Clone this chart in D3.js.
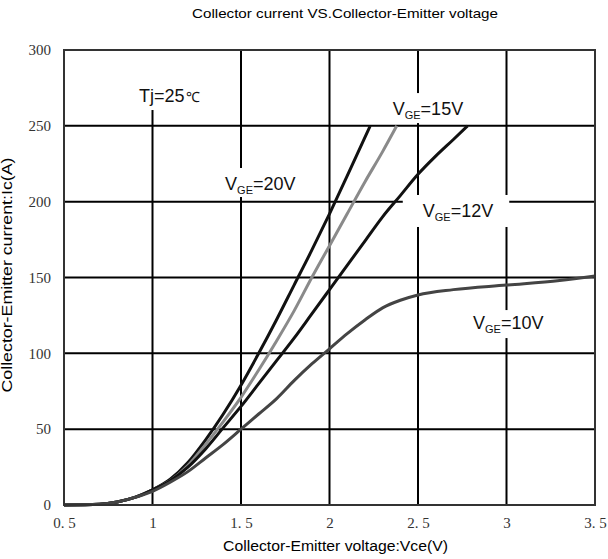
<!DOCTYPE html>
<html>
<head>
<meta charset="utf-8">
<script src="https://cdn.jsdelivr.net/npm/d3@7"></script>
<style>
  body { margin: 0; background: #fff; }
  svg text { font-family: "Liberation Sans", Arial, sans-serif; }
  .tick text { font-family: "Liberation Serif", "Times New Roman", serif; }
</style>
</head>
<body>
<svg id="chart"></svg>
<script>
// Vce (V) / Ic (A) points
const vge20 = [[0.5, 0], [0.7, 0.5], [0.8, 2], [0.9, 5], [1.0, 10], [1.1, 17], [1.2, 28], [1.3, 43], [1.4, 60],
  [1.5, 79], [1.6, 100], [1.7, 122], [1.8, 145], [1.9, 168], [2.0, 192], [2.1, 217], [2.23, 250]];
const vge15 = [[0.5, 0], [0.7, 0.5], [0.8, 2], [0.9, 5], [1.0, 10], [1.1, 16], [1.2, 26], [1.3, 40], [1.4, 55],
  [1.5, 71], [1.6, 89], [1.7, 108], [1.8, 128], [1.9, 150], [2.0, 171], [2.1, 192], [2.2, 213], [2.3, 233], [2.38, 250]];
const vge12 = [[0.5, 0], [0.7, 0.5], [0.8, 2], [0.9, 5], [1.0, 10], [1.1, 16], [1.2, 25], [1.3, 37], [1.4, 51],
  [1.5, 65], [1.6, 80], [1.7, 95], [1.8, 110], [1.9, 126], [2.0, 142], [2.1, 158], [2.2, 174], [2.3, 190],
  [2.4, 204], [2.5, 218], [2.6, 230], [2.7, 241], [2.78, 250]];
const vge10 = [[0.5, 0], [0.7, 0.5], [0.8, 2], [0.9, 5], [1.0, 9], [1.1, 15], [1.2, 22], [1.3, 31], [1.4, 40],
  [1.5, 50], [1.6, 60], [1.7, 70], [1.8, 82], [1.9, 93], [2.0, 103], [2.1, 113], [2.2, 122], [2.3, 130],
  [2.4, 135], [2.5, 138.5], [2.7, 142], [3.0, 145], [3.3, 148], [3.5, 151]];

const seriesNames = ['20', '15', '12', '10'];
const seriesData = [vge20, vge15, vge12, vge10];
const seriesColors = ['#111', '#8a8a8a', '#111', '#444'];

const xTicks = [0.5, 1, 1.5, 2, 2.5, 3, 3.5];
const xTickLabels = ['0. 5', '1', '1. 5', '2', '2. 5', '3', '3. 5'];
const yTicks = [0, 50, 100, 150, 200, 250, 300];

// label anchors in data units [Vce, Ic]
const labelAnchors = [[1.41, 207.7], [2.357, 257.1], [2.527, 189.9], [2.811, 116]];
const tjAnchor = [0.924, 265.7];

const width = 608, height = 559;
const margin = {top: 50, right: 13, bottom: 54, left: 64};
const w = width - margin.left - margin.right;
const h = height - margin.top - margin.bottom;

const svg = d3.select('#chart').attr('width', width).attr('height', height);

const x = d3.scaleLinear().domain([0.5, 3.5]).range([0, w]);
const y = d3.scaleLinear().domain([0, 300]).range([h, 0]);

svg.append('text')
  .attr('x', 345).attr('y', 18)
  .attr('text-anchor', 'middle')
  .attr('font-size', 13)
  .attr('textLength', 306).attr('lengthAdjust', 'spacingAndGlyphs')
  .text('Collector current VS.Collector-Emitter voltage');

const g = svg.append('g').attr('transform', `translate(${margin.left},${margin.top})`);

// grid
g.append('g').selectAll('line')
  .data(xTicks.slice(1, -1))
  .join('line')
  .attr('x1', d => x(d)).attr('x2', d => x(d))
  .attr('y1', 0).attr('y2', h)
  .attr('stroke', '#000').attr('stroke-width', 2);
g.append('g').selectAll('line')
  .data(yTicks.slice(1, -1))
  .join('line')
  .attr('x1', 0).attr('x2', w)
  .attr('y1', d => y(d)).attr('y2', d => y(d))
  .attr('stroke', '#000').attr('stroke-width', 2);

// axes (labels only)
const xAxis = d3.axisBottom(x).tickValues(xTicks)
  .tickFormat((d, i) => xTickLabels[i]).tickSize(0).tickPadding(12);
const yAxis = d3.axisLeft(y).tickValues(yTicks).tickSize(0).tickPadding(13);

g.append('g').attr('transform', `translate(0,${h})`).call(xAxis)
  .call(a => a.select('.domain').remove())
  .selectAll('text').attr('font-size', 15).attr('fill', '#333');
g.append('g').call(yAxis)
  .call(a => a.select('.domain').remove())
  .selectAll('text').attr('font-size', 15).attr('fill', '#333');

// label backgrounds + labels (under the curves)
const labelLayer = g.append('g');
const pads = [[5, 5, 22, 7], [5, 5, 22, 8], [20, 16, 22, 10], [5, 5, 19, 9]]; // left, right, above / below baseline

labelAnchors.forEach((a, i) => {
  const t = labelLayer.append('text')
    .attr('x', x(a[0])).attr('y', y(a[1]))
    .attr('font-size', 18).attr('fill', '#111');
  t.append('tspan').text('V');
  t.append('tspan').attr('font-size', 11).attr('dy', 4).text('GE');
  t.append('tspan').attr('dy', -4).text(`=${seriesNames[i]}V`);
  const b = t.node().getBBox();
  const p = pads[i];
  labelLayer.insert('rect', 'text')
    .attr('x', b.x - p[0]).attr('y', y(a[1]) - p[2])
    .attr('width', b.width + p[0] + p[1]).attr('height', p[2] + p[3])
    .attr('fill', '#fff');
});

const tj = labelLayer.append('text')
  .attr('x', x(tjAnchor[0])).attr('y', y(tjAnchor[1]))
  .attr('font-size', 18).attr('fill', '#111');
tj.append('tspan').text('Tj=25');
tj.append('tspan').attr('font-size', 14).attr('dx', 1).text('℃');
const tb = tj.node().getBBox();
labelLayer.insert('rect', 'text')
  .attr('x', tb.x - 6).attr('y', 1)
  .attr('width', tb.width + 12).attr('height', y(tjAnchor[1]) + 8 - 1)
  .attr('fill', '#fff');

// curves
const line = d3.line()
  .x(d => x(d[0]))
  .y(d => y(d[1]))
  .curve(d3.curveMonotoneX);

g.append('g').selectAll('path')
  .data(seriesData)
  .join('path')
  .attr('d', line)
  .attr('fill', 'none')
  .attr('stroke', (d, i) => seriesColors[i])
  .attr('stroke-width', 3)
  .attr('stroke-linejoin', 'round');

// frame
g.append('rect')
  .attr('x', 0).attr('y', 0).attr('width', w).attr('height', h)
  .attr('fill', 'none').attr('stroke', '#333').attr('stroke-width', 2);

// axis titles
svg.append('text')
  .attr('x', 335.5).attr('y', 551)
  .attr('text-anchor', 'middle')
  .attr('font-size', 14)
  .attr('textLength', 225).attr('lengthAdjust', 'spacingAndGlyphs')
  .text('Collector-Emitter voltage:Vce(V)');

svg.append('text')
  .attr('transform', 'translate(12,275) rotate(-90)')
  .attr('text-anchor', 'middle')
  .attr('font-size', 14)
  .attr('textLength', 235).attr('lengthAdjust', 'spacingAndGlyphs')
  .text('Collector-Emitter current:Ic(A)');
</script>
</body>
</html>
